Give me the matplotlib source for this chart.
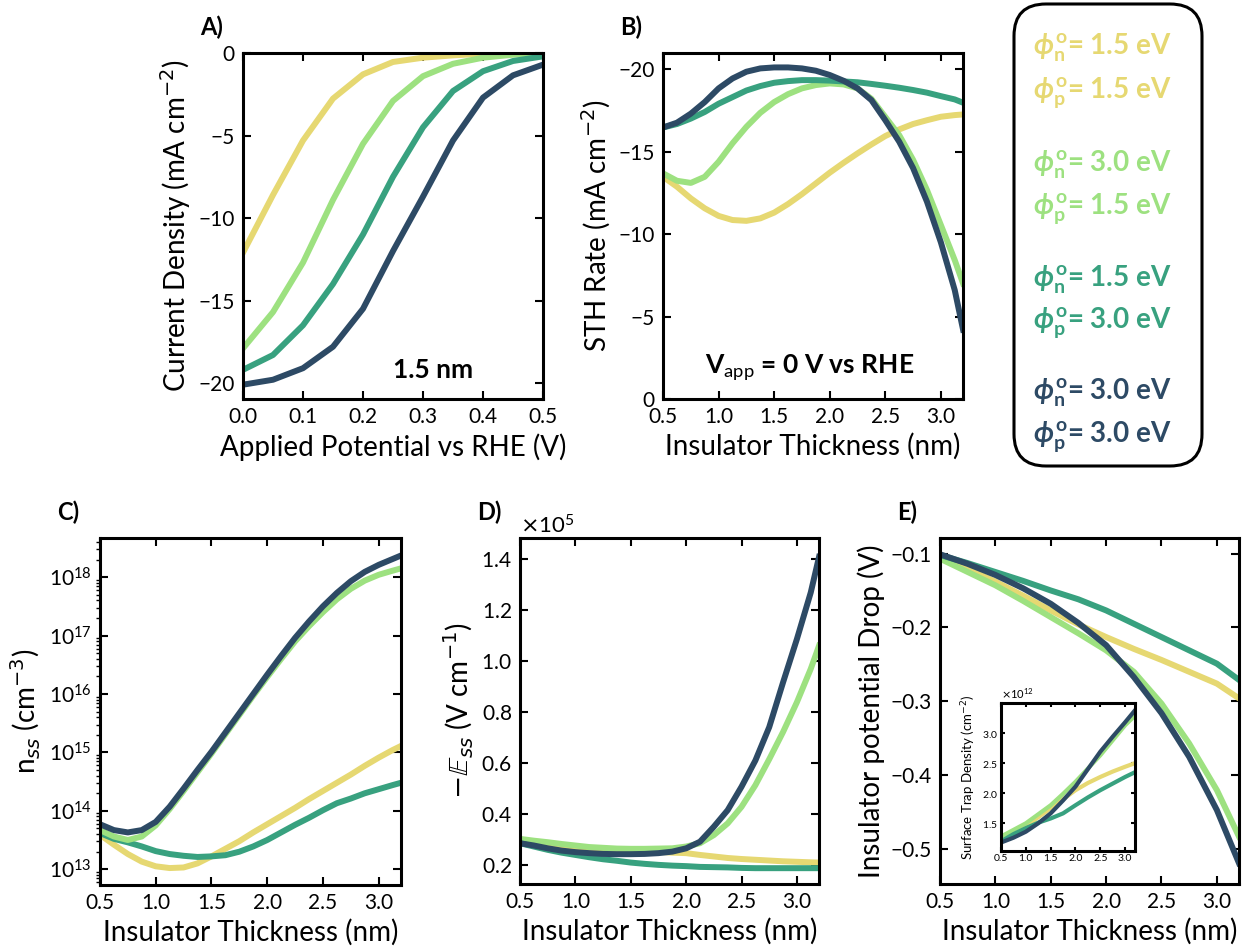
import matplotlib
matplotlib.use('Agg')
import matplotlib.pyplot as plt
import numpy as np
from matplotlib.patches import FancyBboxPatch

plt.rcParams['font.family'] = ['Lato', 'DejaVu Sans']
plt.rcParams['mathtext.rm'] = 'Lato:bold'
plt.rcParams['mathtext.it'] = 'Lato:italic:bold'
plt.rcParams['mathtext.bf'] = 'Lato:bold'
plt.rcParams['mathtext.sf'] = 'Lato'
plt.rcParams['mathtext.fallback'] = 'stixsans'

# colours of the four work-function combinations
colors = ['#e6d872', '#9de180', '#38a17f', '#2d4a65']
phi_n = ['1.5', '3.0', '1.5', '3.0']
phi_p = ['1.5', '1.5', '3.0', '3.0']

# A) J-V curves at 1.5 nm
v_app = [0.0, 0.05, 0.1, 0.15, 0.2, 0.25, 0.3, 0.35, 0.4, 0.45, 0.5]
jv_yellow = [-12.1, -8.6, -5.3, -2.76, -1.29, -0.54, -0.28, -0.14, -0.04, 0.0, 0.0]
jv_green = [-17.9, -15.7, -12.7, -8.9, -5.5, -2.9, -1.4, -0.65, -0.28, -0.1, -0.04]
jv_teal = [-19.2, -18.3, -16.5, -14.0, -11.0, -7.5, -4.5, -2.3, -1.1, -0.48, -0.2]
jv_navy = [-20.1, -19.8, -19.1, -17.8, -15.5, -12.0, -8.7, -5.3, -2.7, -1.35, -0.7]

# insulator thickness (nm), fine grid for B-D
t_fine = [0.5, 0.625, 0.75, 0.875, 1.0, 1.125, 1.25, 1.375, 1.5, 1.625, 1.75, 1.875,
          2.0, 2.125, 2.25, 2.375, 2.5, 2.625, 2.75, 2.875, 3.0, 3.125, 3.2]
# coarse grid for E and inset
t_coarse = [0.5, 0.75, 1.0, 1.25, 1.5, 1.75, 2.0, 2.25, 2.5, 2.75, 3.0, 3.2]

# B) STH rate (mA cm^-2)
sth_yellow = [-13.47, -12.87, -12.16, -11.56, -11.1, -10.85, -10.8, -10.95, -11.3, -11.82, -12.42, -13.07,
              -13.72, -14.32, -14.89, -15.43, -15.94, -16.34, -16.67, -16.9, -17.11, -17.21, -17.25]
sth_green = [-13.68, -13.23, -13.1, -13.47, -14.38, -15.5, -16.5, -17.35, -18.0, -18.48, -18.83, -19.03,
             -19.13, -19.07, -18.83, -18.2, -17.1, -16.0, -14.5, -12.67, -10.55, -8.42, -7.0]
sth_teal = [-16.46, -16.67, -17.0, -17.4, -17.9, -18.3, -18.7, -18.97, -19.17, -19.27, -19.33, -19.33,
            -19.3, -19.25, -19.2, -19.1, -18.99, -18.87, -18.73, -18.57, -18.36, -18.16, -17.96]
sth_navy = [-16.46, -16.75, -17.3, -18.0, -18.83, -19.43, -19.84, -20.04, -20.1, -20.1, -20.04, -19.9,
            -19.64, -19.29, -18.83, -18.12, -16.9, -15.6, -14.0, -11.96, -9.5, -6.6, -4.2]

# C) log10 of n_ss (cm^-3)
lognss_yellow = [13.59, 13.42, 13.26, 13.13, 13.05, 13.02, 13.03, 13.10, 13.22, 13.35, 13.48, 13.63,
                 13.77, 13.91, 14.05, 14.2, 14.34, 14.48, 14.62, 14.77, 14.91, 15.04, 15.11]
lognss_green = [13.67, 13.56, 13.5, 13.56, 13.75, 14.03, 14.34, 14.66, 14.98, 15.31, 15.64, 15.97,
                16.29, 16.6, 16.9, 17.16, 17.40, 17.62, 17.8, 17.94, 18.04, 18.11, 18.15]
lognss_teal = [13.62, 13.52, 13.46, 13.39, 13.31, 13.26, 13.23, 13.21, 13.22, 13.24, 13.30, 13.39,
               13.5, 13.63, 13.76, 13.88, 14.01, 14.13, 14.21, 14.3, 14.37, 14.44, 14.48]
lognss_navy = [13.77, 13.67, 13.63, 13.67, 13.81, 14.07, 14.38, 14.70, 15.01, 15.34, 15.67, 16.0,
               16.33, 16.65, 16.96, 17.24, 17.5, 17.73, 17.93, 18.09, 18.21, 18.31, 18.37]

# D) -E_ss in units of 1e5 V/cm
ess_yellow = [0.298, 0.29, 0.283, 0.277, 0.27, 0.265, 0.261, 0.259, 0.256, 0.253, 0.251, 0.248,
              0.246, 0.239, 0.233, 0.227, 0.223, 0.22, 0.217, 0.214, 0.212, 0.21, 0.209]
ess_green = [0.302, 0.295, 0.289, 0.282, 0.276, 0.27, 0.267, 0.264, 0.263, 0.263, 0.264, 0.265,
             0.272, 0.285, 0.317, 0.363, 0.428, 0.513, 0.615, 0.722, 0.839, 0.97, 1.061]
ess_teal = [0.285, 0.272, 0.259, 0.248, 0.239, 0.23, 0.222, 0.216, 0.209, 0.204, 0.2, 0.197,
            0.195, 0.192, 0.191, 0.19, 0.188, 0.187, 0.187, 0.187, 0.187, 0.187, 0.187]
ess_navy = [0.285, 0.276, 0.265, 0.256, 0.25, 0.246, 0.243, 0.242, 0.242, 0.243, 0.246, 0.252,
            0.265, 0.291, 0.35, 0.415, 0.507, 0.61, 0.741, 0.917, 1.087, 1.27, 1.41]

# E) insulator potential drop (V)
drop_yellow = [-0.105, -0.121, -0.138, -0.157, -0.177, -0.196, -0.213, -0.229, -0.244, -0.260, -0.276, -0.296]
drop_green = [-0.107, -0.125, -0.143, -0.164, -0.186, -0.208, -0.231, -0.260, -0.303, -0.357, -0.42, -0.483]
drop_teal = [-0.102, -0.113, -0.125, -0.137, -0.150, -0.162, -0.177, -0.195, -0.213, -0.231, -0.249, -0.271]
drop_navy = [-0.101, -0.114, -0.129, -0.147, -0.168, -0.194, -0.224, -0.267, -0.316, -0.375, -0.447, -0.519]

# E inset) surface trap density in units of 1e12 cm^-2
trap_yellow = [1.235, 1.34, 1.445, 1.6, 1.75, 1.90, 2.05, 2.17, 2.27, 2.36, 2.44, 2.5]
trap_green = [1.28, 1.39, 1.5, 1.65, 1.80, 1.99, 2.19, 2.41, 2.63, 2.88, 3.13, 3.29]
trap_teal = [1.2, 1.32, 1.42, 1.51, 1.58, 1.665, 1.80, 1.93, 2.05, 2.16, 2.27, 2.35]
trap_navy = [1.18, 1.26, 1.36, 1.5, 1.665, 1.88, 2.11, 2.40, 2.69, 2.94, 3.18, 3.38]

LW = 4.3
LABEL = 20
TICK = 15


def style(ax, ticksize=TICK, length=6):
    ax.tick_params(direction='in', top=True, right=True, which='major',
                   length=length, width=1.5, labelsize=ticksize, pad=6)
    for s in ax.spines.values():
        s.set_linewidth(2.2)


fig = plt.figure(figsize=(12.48, 9.51), dpi=100)

# ---------- A ----------
axA = fig.add_axes([0.1947, 0.5804, 0.2404, 0.3638])
for y, c in zip([jv_yellow, jv_green, jv_teal, jv_navy], colors):
    axA.plot(v_app, y, color=c, lw=LW, solid_joinstyle='round')
axA.set_xlim(0, 0.5)
axA.set_ylim(-20.97, 0)
axA.set_xticks([0, 0.1, 0.2, 0.3, 0.4, 0.5])
axA.set_yticks([0, -5, -10, -15, -20])
axA.set_xlabel('Applied Potential vs RHE (V)', fontsize=LABEL)
axA.set_ylabel('Current Density (mA cm$^{-2}$)', fontsize=LABEL)
axA.text(0.633, 0.084, '1.5 nm', transform=axA.transAxes, fontsize=19,
         fontweight='bold', ha='center', va='center')
style(axA)

# ---------- B ----------
axB = fig.add_axes([0.5313, 0.5804, 0.2404, 0.3638])
for y, c in zip([sth_yellow, sth_green, sth_teal, sth_navy], colors):
    axB.plot(t_fine, y, color=c, lw=LW, solid_joinstyle='round')
axB.set_xlim(0.5, 3.2)
axB.set_ylim(0, -20.97)
axB.set_xticks([0.5, 1.0, 1.5, 2.0, 2.5, 3.0])
axB.set_yticks([0, -5, -10, -15, -20])
axB.set_xlabel('Insulator Thickness (nm)', fontsize=LABEL)
axB.set_ylabel('STH Rate (mA cm$^{-2}$)', fontsize=LABEL)
axB.text(0.49, 0.092, r'V$_{\mathsf{app}}$ = 0 V vs RHE', transform=axB.transAxes,
         fontsize=19, fontweight='bold', ha='center', va='center',
         math_fontfamily='custom')
style(axB)

# ---------- legend box ----------
box = FancyBboxPatch((10.14, 4.85), 1.88, 4.62, boxstyle='round,pad=0,rounding_size=0.32',
                     transform=fig.dpi_scale_trans, facecolor='white', edgecolor='black',
                     lw=2.2, zorder=0)
fig.patches.append(box)
row_y = [48, 93, 165, 209, 280, 323, 393, 437]
for i, c in enumerate(colors):
    for j, (sub, val) in enumerate([('n', phi_n[i]), ('p', phi_p[i])]):
        fig.text(1102 / 1248, 1 - row_y[2 * i + j] / 951,
                 r'$\phi^{\mathrm{o}}_{\mathrm{' + sub + '}}$= ' + val + ' eV',
                 color=c, fontsize=20, fontweight='bold', ha='center', va='center',
                 math_fontfamily='custom')

# ---------- C ----------
axC = fig.add_axes([0.0801, 0.0694, 0.2412, 0.3649])
for y, c in zip([lognss_yellow, lognss_teal, lognss_green, lognss_navy],
                [colors[0], colors[2], colors[1], colors[3]]):
    axC.plot(t_fine, 10 ** np.array(y), color=c, lw=LW, solid_joinstyle='round')
axC.set_yscale('log')
axC.set_xlim(0.5, 3.2)
axC.set_ylim(10 ** 12.73, 10 ** 18.67)
axC.set_xticks([0.5, 1.0, 1.5, 2.0, 2.5, 3.0])
axC.set_yticks([1e13, 1e14, 1e15, 1e16, 1e17, 1e18])
axC.set_xlabel('Insulator Thickness (nm)', fontsize=LABEL)
axC.set_ylabel('n$_{ss}$ (cm$^{-3}$)', fontsize=LABEL)
style(axC)
axC.tick_params(which='minor', direction='out', left=True, right=False, length=3, width=1)

# ---------- D ----------
axD = fig.add_axes([0.4167, 0.0705, 0.2396, 0.3638])
for y, c in zip([ess_yellow, ess_green, ess_teal, ess_navy], colors):
    axD.plot(t_fine, np.array(y) * 1e5, color=c, lw=LW, solid_joinstyle='round')
axD.set_xlim(0.5, 3.2)
axD.set_ylim(0.125e5, 1.484e5)
axD.set_xticks([0.5, 1.0, 1.5, 2.0, 2.5, 3.0])
axD.set_yticks([0.2e5, 0.4e5, 0.6e5, 0.8e5, 1.0e5, 1.2e5, 1.4e5])
axD.ticklabel_format(axis='y', style='sci', scilimits=(0, 0), useMathText=True)
axD.yaxis.get_offset_text().set_fontsize(16)
axD.set_xlabel('Insulator Thickness (nm)', fontsize=LABEL)
axD.set_ylabel(r'$-\mathbb{E}_{ss}$ (V cm$^{-1}$)', fontsize=LABEL)
style(axD)

# ---------- E ----------
axE = fig.add_axes([0.7532, 0.0705, 0.2396, 0.3638])
for y, c in zip([drop_yellow, drop_green, drop_teal, drop_navy], colors):
    axE.plot(t_coarse, y, color=c, lw=LW, solid_joinstyle='round')
axE.set_xlim(0.5, 3.2)
axE.set_ylim(-0.547, -0.079)
axE.set_xticks([0.5, 1.0, 1.5, 2.0, 2.5, 3.0])
axE.set_yticks([-0.1, -0.2, -0.3, -0.4, -0.5])
axE.set_xlabel('Insulator Thickness (nm)', fontsize=LABEL)
axE.set_ylabel('Insulator potential Drop (V)', fontsize=LABEL)
style(axE)

# inset
axI = fig.add_axes([0.8021, 0.1052, 0.1074, 0.1556])
for y, c in zip([trap_yellow, trap_green, trap_teal, trap_navy], colors):
    axI.plot(t_coarse, np.array(y) * 1e12, color=c, lw=3.0, solid_joinstyle='round')
axI.set_xlim(0.5, 3.2)
axI.set_ylim(1.04e12, 3.50e12)
axI.set_xticks([0.5, 1.0, 1.5, 2.0, 2.5, 3.0])
axI.set_yticks([1.5e12, 2.0e12, 2.5e12, 3.0e12])
axI.ticklabel_format(axis='y', style='sci', scilimits=(0, 0), useMathText=True)
axI.yaxis.get_offset_text().set_fontsize(8)
axI.set_ylabel('Surface Trap Density (cm$^{-2}$)', fontsize=9.5, labelpad=3)
style(axI, ticksize=7.5, length=3)
axI.tick_params(pad=2)

# panel letters
for lab, x, y in [('A)', 200, 27), ('B)', 620, 27), ('C)', 57, 512), ('D)', 477, 512), ('E)', 897, 512)]:
    fig.text(x / 1248, 1 - y / 951, lab, fontsize=17, fontweight='bold', ha='left', va='center')

plt.savefig('out.png', dpi=100)
